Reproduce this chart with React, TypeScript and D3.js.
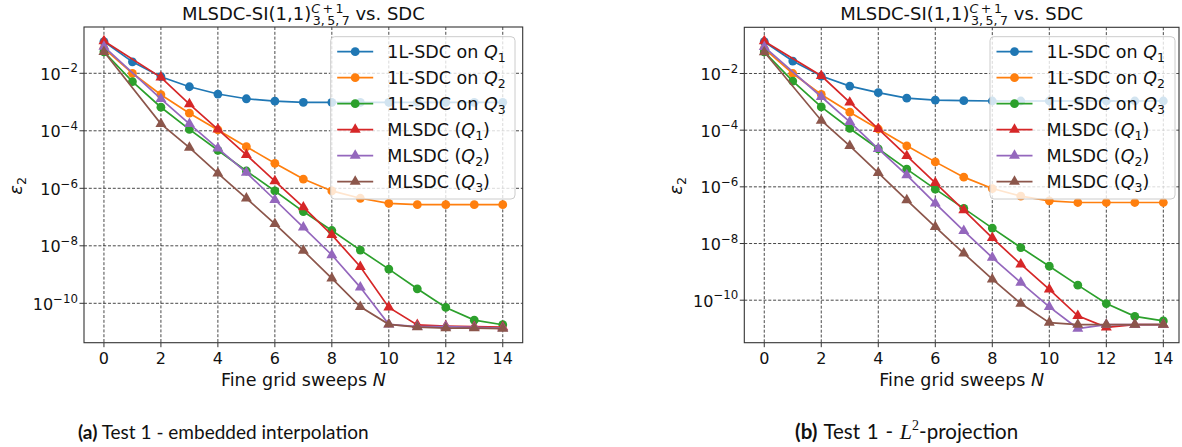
import React from 'react';
import * as d3 from 'd3';

// Sweep counts for single-level SDC and MLSDC runs
const sweepsSDC = [0, 1, 2, 3, 4, 5, 6, 7, 8, 9, 10, 11, 12, 13, 14];
const sweepsML = [0, 2, 3, 4, 5, 6, 7, 8, 9, 10, 11, 12, 13, 14];

const xTicks = [0, 2, 4, 6, 8, 10, 12, 14];
const yTickExps = [-2, -4, -6, -8, -10];

// (a) embedded interpolation
const aSdcQ1 = [1.27e-1, 2.5e-2, 7.6e-3, 3.4e-3, 1.9e-3, 1.3e-3, 1.07e-3, 9.8e-4, 9.8e-4, 9.8e-4, 9.8e-4, 9.8e-4, 9.8e-4, 9.8e-4, 9.8e-4];
const aSdcQ2 = [7.4e-2, 1.0e-2, 1.8e-3, 4.1e-4, 1.07e-4, 2.8e-5, 7.4e-6, 2.1e-6, 8.1e-7, 4.5e-7, 3.0e-7, 2.7e-7, 2.7e-7, 2.7e-7, 2.7e-7];
const aSdcQ3 = [5.6e-2, 5.1e-3, 6.6e-4, 1.12e-4, 2.1e-5, 4.0e-6, 8.1e-7, 1.55e-7, 3.4e-8, 7.1e-9, 1.55e-9, 3.2e-10, 7.2e-11, 2.6e-11, 1.8e-11];
const aMlQ1 = [1.32e-1, 7.2e-3, 8.5e-4, 1.12e-4, 1.45e-5, 1.78e-6, 2.2e-7, 2.4e-8, 1.86e-9, 7.2e-11, 1.78e-11, 1.62e-11, 1.55e-11, 1.48e-11];
const aMlQ2 = [8.5e-2, 1.29e-3, 1.74e-4, 2.45e-5, 3.5e-6, 4.0e-7, 4.4e-8, 4.8e-9, 3.6e-10, 1.86e-11, 1.55e-11, 1.55e-11, 1.45e-11, 1.38e-11];
const aMlQ3 = [5.6e-2, 1.74e-4, 2.6e-5, 3.3e-6, 4.5e-7, 5.8e-8, 6.8e-9, 7.4e-10, 7.6e-11, 1.86e-11, 1.48e-11, 1.38e-11, 1.38e-11, 1.32e-11];

// (b) L2-projection
const bSdcQ1 = [1.32e-1, 2.75e-2, 8.1e-3, 3.6e-3, 2.1e-3, 1.35e-3, 1.15e-3, 1.1e-3, 1.07e-3, 1.07e-3, 1.07e-3, 1.07e-3, 1.07e-3, 1.07e-3, 1.07e-3];
const bSdcQ2 = [7.6e-2, 1.0e-2, 1.82e-3, 4.3e-4, 1.1e-4, 2.8e-5, 7.6e-6, 2.2e-6, 8.7e-7, 4.7e-7, 3.2e-7, 2.8e-7, 2.8e-7, 2.8e-7, 2.8e-7];
const bSdcQ3 = [5.75e-2, 5.4e-3, 6.6e-4, 1.15e-4, 2.2e-5, 4.2e-6, 8.3e-7, 1.74e-7, 3.5e-8, 7.2e-9, 1.58e-9, 3.4e-10, 7.6e-11, 2.7e-11, 1.86e-11];
const bMlQ1 = [1.38e-1, 8.3e-3, 9.5e-4, 1.12e-4, 1.23e-5, 1.38e-6, 1.51e-7, 1.58e-8, 1.86e-9, 2.4e-10, 2.8e-11, 1.1e-11, 1.38e-11, 1.38e-11];
const bMlQ2 = [8.7e-2, 1.51e-3, 1.95e-4, 2.2e-5, 2.6e-6, 2.6e-7, 2.8e-8, 3.2e-9, 4.2e-10, 5.8e-11, 1.0e-11, 1.38e-11, 1.38e-11, 1.38e-11];
const bMlQ3 = [5.75e-2, 2.2e-4, 2.8e-5, 3.1e-6, 3.4e-7, 3.9e-8, 4.5e-9, 5.5e-10, 7.6e-11, 1.62e-11, 1.38e-11, 1.38e-11, 1.38e-11, 1.38e-11];

const seriesColors = ['#1f77b4', '#ff7f0e', '#2ca02c', '#d62728', '#9467bd', '#8c564b'];
const seriesMarkers = ['circle', 'circle', 'circle', 'triangle', 'triangle', 'triangle'];
const legendPrefix = ['1L-SDC on ', '1L-SDC on ', '1L-SDC on ', 'MLSDC (', 'MLSDC (', 'MLSDC ('];
const legendSub = ['1', '2', '3', '1', '2', '3'];
const legendSuffix = ['', '', '', ')', ')', ')'];

const FONT = 'DejaVu Sans';
const CAPTION_FONT = 'Lato';

type Box = { left: number; right: number; top: number; bottom: number };

type PanelProps = {
  id: string;
  box: Box;
  xDomain: [number, number];
  yLogDomain: [number, number];
  legendX: [number, number];
  sdc: number[][];
  ml: number[][];
};

const triPath = d3.symbol(d3.symbolTriangle, 52)() as string;

function Panel({ id, box, xDomain, yLogDomain, legendX, sdc, ml }: PanelProps) {
  const x = d3.scaleLinear().domain(xDomain).range([box.left, box.right]);
  const y = d3
    .scaleLog()
    .domain([Math.pow(10, yLogDomain[0]), Math.pow(10, yLogDomain[1])])
    .range([box.bottom, box.top]);

  const all = [
    ...sdc.map((vals) => ({ xs: sweepsSDC, vals })),
    ...ml.map((vals) => ({ xs: sweepsML, vals })),
  ];

  const line = d3
    .line<[number, number]>()
    .x((d) => x(d[0]))
    .y((d) => y(d[1]));

  const cx = (box.left + box.right) / 2;
  const clipId = `clip-${id}`;
  const legTop = 36.7;
  const legBottom = 199;
  const rowY = (i: number) => 51.7 + i * 26;

  return (
    <g>
      <defs>
        <clipPath id={clipId}>
          <rect x={box.left} y={box.top} width={box.right - box.left} height={box.bottom - box.top} />
        </clipPath>
      </defs>
      {/* grid */}
      <g stroke="#000" strokeOpacity={0.8} strokeWidth={0.9} strokeDasharray="3,1.8">
        {xTicks.map((t) => (
          <line key={`gx${t}`} x1={x(t)} x2={x(t)} y1={box.top} y2={box.bottom} />
        ))}
        {yTickExps.map((e) => (
          <line key={`gy${e}`} x1={box.left} x2={box.right} y1={y(Math.pow(10, e))} y2={y(Math.pow(10, e))} />
        ))}
      </g>
      {/* data */}
      <g clipPath={`url(#${clipId})`}>
        {all.map((s, i) => {
          const pts = s.xs.map((xv, k) => [xv, s.vals[k]] as [number, number]);
          return (
            <g key={`s${i}`}>
              <path d={line(pts) as string} fill="none" stroke={seriesColors[i]} strokeWidth={1.7} />
              {pts.map((p, k) =>
                seriesMarkers[i] === 'circle' ? (
                  <circle key={k} cx={x(p[0])} cy={y(p[1])} r={4.4} fill={seriesColors[i]} />
                ) : (
                  <path key={k} d={triPath} transform={`translate(${x(p[0])},${y(p[1])})`} fill={seriesColors[i]} />
                )
              )}
            </g>
          );
        })}
      </g>
      {/* spines */}
      <rect
        x={box.left}
        y={box.top}
        width={box.right - box.left}
        height={box.bottom - box.top}
        fill="none"
        stroke="#333"
        strokeWidth={1.1}
      />
      {/* x ticks */}
      {xTicks.map((t) => (
        <g key={`xt${t}`}>
          <line x1={x(t)} x2={x(t)} y1={box.bottom} y2={box.bottom + 4.5} stroke="#333" strokeWidth={1} />
          <text x={x(t)} y={box.bottom + 21.3} textAnchor="middle" fontFamily={FONT} fontSize={16} fill="#111">
            {t}
          </text>
        </g>
      ))}
      {/* y ticks */}
      {yTickExps.map((e) => {
        const yy = y(Math.pow(10, e));
        return (
          <g key={`yt${e}`}>
            <line x1={box.left - 4.5} x2={box.left} y1={yy} y2={yy} stroke="#333" strokeWidth={1} />
            <text x={box.left - 6} y={yy + 6.6} textAnchor="end" fontFamily={FONT} fontSize={16} fill="#111">
              10
              <tspan fontSize={11.8} dy={-7.4}>
                {'\u2212' + Math.abs(e)}
              </tspan>
            </text>
          </g>
        );
      })}
      {/* axis labels */}
      <text x={cx} y={386} textAnchor="middle" fontFamily={FONT} fontSize={17.5} fill="#111">
        Fine grid sweeps <tspan fontStyle="italic">N</tspan>
      </text>
      <text
        transform={`translate(${box.left - 62},186) rotate(-90)`}
        textAnchor="middle"
        fontFamily={FONT}
        fontSize={18}
        fill="#111"
      >
        <tspan fontStyle="italic">ε</tspan>
        <tspan fontSize={12.5} dy={3.5}>
          2
        </tspan>
      </text>
      {/* title: superscript and subscript stacked after "(1,1)" */}
      <text x={cx} y={20} textAnchor="middle" fontFamily={FONT} fontSize={18} fill="#111">
        MLSDC-SI(1,1)
        <tspan fontSize={12.6} dy={-7.5}>
          <tspan fontStyle="italic">C</tspan>
          {'\u2009+\u20091'}
        </tspan>
        <tspan fontSize={12.6} dx={-31} dy={12}>
          {'3,\u20095,\u20097'}
        </tspan>
        <tspan dy={-4.5}> vs. SDC</tspan>
      </text>
      {/* legend */}
      <rect
        x={legendX[0]}
        y={legTop}
        width={legendX[1] - legendX[0]}
        height={legBottom - legTop}
        rx={4}
        fill="#fff"
        fillOpacity={0.8}
        stroke="#cccccc"
        strokeWidth={1}
      />
      {seriesColors.map((c, i) => {
        const ly = rowY(i);
        const x0 = legendX[0] + 6.5;
        const x1 = x0 + 36;
        const xm = (x0 + x1) / 2;
        return (
          <g key={`lg${i}`}>
            <line x1={x0} x2={x1} y1={ly} y2={ly} stroke={c} strokeWidth={1.7} />
            {seriesMarkers[i] === 'circle' ? (
              <circle cx={xm} cy={ly} r={4.4} fill={c} />
            ) : (
              <path d={triPath} transform={`translate(${xm},${ly})`} fill={c} />
            )}
            <text x={legendX[0] + 56.6} y={ly + 6.2} fontFamily={FONT} fontSize={17.5} fill="#111">
              {legendPrefix[i]}
              <tspan fontStyle="italic">Q</tspan>
              <tspan fontSize={12.5} dy={3.6}>
                {legendSub[i]}
              </tspan>
              <tspan dy={-3.6}>{legendSuffix[i]}</tspan>
            </text>
          </g>
        );
      })}
    </g>
  );
}

export default function App() {
  return (
    <svg
      width={1182}
      height={447}
      viewBox="0 0 1182 447"
      style={{ position: 'absolute', left: 0, top: 0, background: '#fff' }}
    >
      <rect width={1182} height={447} fill="#fff" />
      <Panel
        id="a"
        box={{ left: 84, right: 522.7, top: 27, bottom: 342.7 }}
        xDomain={[-0.7, 14.7]}
        yLogDomain={[-11.37, -0.39]}
        legendX={[330.7, 515]}
        sdc={[aSdcQ1, aSdcQ2, aSdcQ3]}
        ml={[aMlQ1, aMlQ2, aMlQ3]}
      />
      <Panel
        id="b"
        box={{ left: 744.3, right: 1179, top: 27.3, bottom: 342.7 }}
        xDomain={[-0.7, 14.55]}
        yLogDomain={[-11.5, -0.37]}
        legendX={[990, 1175]}
        sdc={[bSdcQ1, bSdcQ2, bSdcQ3]}
        ml={[bMlQ1, bMlQ2, bMlQ3]}
      />
      {/* sub-figure captions */}
      <text x={78} y={439} fontFamily={CAPTION_FONT} fontSize={19} fill="#111">
        <tspan fontWeight="bold">(a)</tspan> Test 1 - embedded interpolation
      </text>
      <text x={795} y={439} fontFamily={CAPTION_FONT} fontSize={20.5} fill="#111" wordSpacing={1.5}>
        <tspan fontWeight="bold">(b)</tspan> Test 1 -{' '}
        <tspan fontFamily="Liberation Serif" fontStyle="italic" fontSize={22}>
          L
        </tspan>
        <tspan fontFamily="Liberation Serif" fontSize={14} dy={-9}>
          2
        </tspan>
        <tspan dy={9}>-projection</tspan>
      </text>
    </svg>
  );
}
